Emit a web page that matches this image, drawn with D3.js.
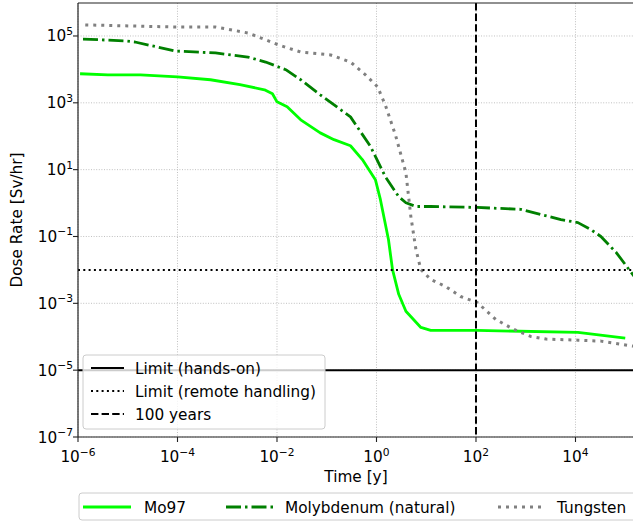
<!DOCTYPE html>
<html>
<head>
<meta charset="utf-8">
<script src="https://cdn.jsdelivr.net/npm/d3@7"></script>
<style>
  body { margin: 0; background: #fff; }
  text { font-family: "DejaVu Sans", sans-serif; fill: #000; }
</style>
</head>
<body>
<div class="chart"></div>
<script>
// decay curves (time in years, dose in Sv/hr)
const mo97Time = [1.1e-6, 4.0e-6, 1.8e-5, 1.0e-4, 4.6e-4, 1.8e-3, 5.6e-3, 8.1e-3, 1.0e-2, 1.6e-2, 3.0e-2, 7.4e-2, 0.14, 0.30, 0.52, 0.95, 1.2, 1.74, 2.1, 2.8, 3.9, 7.8, 12.3, 105, 11200, 1.0e5];
const mo97Dose = [7400, 6900, 6900, 6000, 4900, 3500, 2450, 1860, 1070, 760, 310, 126, 79, 52, 20, 5.0, 1.26, 0.081, 0.0102, 1.86e-3, 5.8e-4, 1.9e-4, 1.55e-4, 1.55e-4, 1.35e-4, 9.1e-5];

const moNatTime = [1.26e-6, 8.9e-6, 1.4e-5, 8.9e-5, 5.8e-4, 2.6e-3, 5.9e-3, 1.5e-2, 3.0e-2, 7.4e-2, 0.30, 0.76, 1.5, 2.8, 3.9, 6.2, 12.3, 105, 790, 5100, 11200, 20400, 32400, 66000, 1.5e5];
const moNatDose = [81000, 71000, 66000, 35500, 31000, 23400, 16600, 9800, 4900, 1740, 380, 49, 6.2, 1.55, 1.02, 0.79, 0.79, 0.74, 0.65, 0.32, 0.26, 0.16, 0.10, 0.033, 0.0065];

const tungTime = [1.4e-6, 8.9e-5, 5.8e-4, 1.26e-3, 2.6e-3, 5.4e-3, 1.07e-2, 3.0e-2, 0.12, 0.30, 0.60, 1.05, 1.5, 2.4, 3.9, 4.9, 6.2, 7.8, 12.3, 24.5, 49, 105, 250, 575, 1260, 2570, 11200, 32400, 1.5e5];
const tungDose = [214000, 186000, 186000, 151000, 123000, 81000, 54000, 33000, 27000, 16600, 6900, 3000, 870, 110, 8.1, 0.40, 0.041, 0.0102, 5.2e-3, 3.2e-3, 1.6e-3, 1.07e-3, 3.3e-4, 1.66e-4, 1.02e-4, 8.5e-5, 7.9e-5, 7.4e-5, 5.2e-5];

const seriesNames = ["Mo97", "Molybdenum (natural)", "Tungsten"];
const handsOnLimit = 1e-5;
const remoteLimit = 1e-2;
const markYear = 100;
const limitNames = ["Limit (hands-on)", "Limit (remote handling)", "100 years"];
const xTicks = [1e-6, 1e-4, 1e-2, 1e0, 1e2, 1e4];
const yTicks = [1e-7, 1e-5, 1e-3, 1e-1, 1e1, 1e3, 1e5];

const W = 633, H = 521;
const margin = {top: 3, left: 78, right: 634, bottom: 437};
const fs = "15.3px", fsSup = "10.7px";

const svg = d3.select(".chart").append("svg")
    .attr("width", W)
    .attr("height", H);

const x = d3.scaleLog().domain([1e-6, 1.5e5]).range([margin.left, margin.right]);
const y = d3.scaleLog().domain([1e-7, 9.7e5]).range([margin.bottom, margin.top]);

const sup = v => {
  const e = Math.round(Math.log10(v));
  return e < 0 ? "\u2212" + (-e) : "" + e;
};

svg.append("defs").append("clipPath").attr("id", "clip")
  .append("rect")
    .attr("x", margin.left).attr("y", margin.top)
    .attr("width", margin.right - margin.left)
    .attr("height", margin.bottom - margin.top);

// grid
const grid = svg.append("g").attr("stroke", "#b0b0b0").attr("stroke-width", 0.8).attr("stroke-dasharray", "1,1.6");
grid.selectAll(".gx").data(xTicks).enter().append("line")
    .attr("x1", d => x(d)).attr("x2", d => x(d))
    .attr("y1", margin.top).attr("y2", margin.bottom);
grid.selectAll(".gy").data(yTicks).enter().append("line")
    .attr("x1", margin.left).attr("x2", margin.right)
    .attr("y1", d => y(d)).attr("y2", d => y(d));

const plot = svg.append("g").attr("clip-path", "url(#clip)");

const line = d3.line().x(d => x(d[0])).y(d => y(d[1]));

const series = [
  {name: seriesNames[0], data: d3.zip(mo97Time, mo97Dose), color: "#00ff00", dash: null, w: 2.8},
  {name: seriesNames[1], data: d3.zip(moNatTime, moNatDose), color: "#008000", dash: "15,4,2.5,4", w: 2.8},
  {name: seriesNames[2], data: d3.zip(tungTime, tungDose), color: "#808080", dash: "3,5", w: 3}
];

series.forEach(s => {
  plot.append("path")
    .attr("d", line(s.data))
    .attr("fill", "none")
    .attr("stroke", s.color)
    .attr("stroke-width", s.w)
    .attr("stroke-linejoin", "round")
    .attr("stroke-dasharray", s.dash);
});

// limit lines
plot.append("line")
    .attr("x1", margin.left).attr("x2", margin.right)
    .attr("y1", y(handsOnLimit)).attr("y2", y(handsOnLimit))
    .attr("stroke", "#000").attr("stroke-width", 2);
plot.append("line")
    .attr("x1", margin.left).attr("x2", margin.right)
    .attr("y1", y(remoteLimit)).attr("y2", y(remoteLimit))
    .attr("stroke", "#000").attr("stroke-width", 2).attr("stroke-dasharray", "2,3.3");
plot.append("line")
    .attr("x1", x(markYear)).attr("x2", x(markYear))
    .attr("y1", margin.top).attr("y2", margin.bottom)
    .attr("stroke", "#000").attr("stroke-width", 2).attr("stroke-dasharray", "7.4,3.2");

// axes
const axisG = svg.append("g").attr("stroke", "#222").attr("stroke-width", 1.2);
axisG.append("line").attr("x1", margin.left).attr("x2", margin.right + 2).attr("y1", margin.top).attr("y2", margin.top);
axisG.append("line").attr("x1", margin.left).attr("x2", margin.right + 2).attr("y1", margin.bottom).attr("y2", margin.bottom);
axisG.append("line").attr("x1", margin.left).attr("x2", margin.left).attr("y1", margin.top).attr("y2", margin.bottom);

const xt = svg.append("g").selectAll("g").data(xTicks).enter().append("g");
xt.append("line")
    .attr("x1", d => x(d)).attr("x2", d => x(d))
    .attr("y1", margin.bottom).attr("y2", margin.bottom + 5)
    .attr("stroke", "#222").attr("stroke-width", 1.1);
const xtxt = xt.append("text")
    .attr("x", d => x(d)).attr("y", 462)
    .attr("text-anchor", "middle")
    .style("font-size", fs);
xtxt.append("tspan").text("10");
xtxt.append("tspan").attr("dy", -6.5).style("font-size", fsSup).text(d => sup(d));

const yt = svg.append("g").selectAll("g").data(yTicks).enter().append("g");
yt.append("line")
    .attr("x1", margin.left - 5).attr("x2", margin.left)
    .attr("y1", d => y(d)).attr("y2", d => y(d))
    .attr("stroke", "#222").attr("stroke-width", 1.1);
const ytxt = yt.append("text")
    .attr("x", 73).attr("y", d => y(d) + 5.5)
    .attr("text-anchor", "end")
    .style("font-size", fs);
ytxt.append("tspan").text("10");
ytxt.append("tspan").attr("dy", -6.5).style("font-size", fsSup).text(d => sup(d));

svg.append("text")
    .attr("x", 356).attr("y", 482)
    .attr("text-anchor", "middle")
    .style("font-size", fs)
    .text("Time [y]");

svg.append("text")
    .attr("transform", "translate(22,220) rotate(-90)")
    .attr("text-anchor", "middle")
    .style("font-size", fs)
    .text("Dose Rate [Sv/hr]");

// inner legend
const lg = svg.append("g");
lg.append("rect")
    .attr("x", 83).attr("y", 355).attr("width", 242).attr("height", 74)
    .attr("rx", 3).attr("fill", "#fff").attr("fill-opacity", 0.8)
    .attr("stroke", "#cccccc").attr("stroke-width", 1);
const limitDash = [null, "2,3.3", "7.4,3.2"];
limitNames.forEach((n, i) => {
  const ly = 368 + i * 23;
  lg.append("line").attr("x1", 91).attr("x2", 124).attr("y1", ly).attr("y2", ly)
    .attr("stroke", "#000").attr("stroke-width", 2).attr("stroke-dasharray", limitDash[i]);
  lg.append("text").attr("x", 135).attr("y", ly + 5.5).style("font-size", fs).text(n);
});

// bottom legend
const bl = svg.append("g");
bl.append("rect")
    .attr("x", 79).attr("y", 493).attr("width", 570).attr("height", 27)
    .attr("rx", 3).attr("fill", "#fff")
    .attr("stroke", "#cccccc").attr("stroke-width", 1);
const blPos = [[83, 131, 144], [226, 273, 285], [498, 542, 557]];
series.forEach((s, i) => {
  const p = blPos[i];
  bl.append("line").attr("x1", p[0]).attr("x2", p[1]).attr("y1", 507).attr("y2", 507)
    .attr("stroke", s.color).attr("stroke-width", s.w).attr("stroke-dasharray", s.dash);
  bl.append("text").attr("x", p[2]).attr("y", 512.5).style("font-size", fs).text(s.name);
});
</script>
</body>
</html>
